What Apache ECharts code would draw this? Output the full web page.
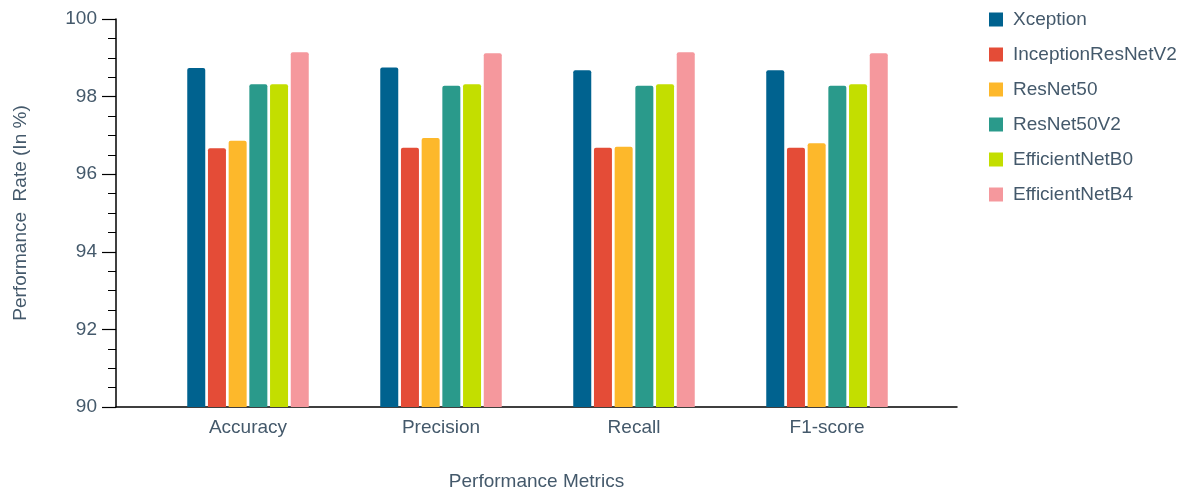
<!DOCTYPE html>
<html>
<head>
<meta charset="utf-8">
<script src="https://cdn.jsdelivr.net/npm/echarts@6/dist/echarts.min.js"></script>
<style>
  html, body { margin: 0; padding: 0; background: #ffffff; }
  #chart { width: 1178px; height: 487px; }
</style>
</head>
<body>
<div id="chart"></div>
<script>
// Metric categories along the x axis
const metrics = ['Accuracy', 'Precision', 'Recall', 'F1-score'];

// Per-model scores (%) for each metric
const xception          = [98.74, 98.75, 98.68, 98.68];
const inceptionResNetV2 = [96.67, 96.68, 96.68, 96.68];
const resNet50          = [96.86, 96.93, 96.71, 96.80];
const resNet50V2        = [98.32, 98.28, 98.28, 98.28];
const efficientNetB0    = [98.32, 98.32, 98.32, 98.32];
const efficientNetB4    = [99.14, 99.12, 99.14, 99.12];

const modelNames = ['Xception', 'InceptionResNetV2', 'ResNet50', 'ResNet50V2', 'EfficientNetB0', 'EfficientNetB4'];
const modelValues = [xception, inceptionResNetV2, resNet50, resNet50V2, efficientNetB0, efficientNetB4];
const modelColors = ['#00628f', '#e44c37', '#fdb82b', '#2a9a8b', '#c3de00', '#f5989d'];

const textColor = '#44596b';
const fontFamily = '"Liberation Sans", Arial, Helvetica, sans-serif';
const fontSize = 19;

const chart = echarts.init(document.getElementById('chart'), null, { renderer: 'canvas' });

const series = modelNames.map((name, i) => ({
  name: name,
  type: 'bar',
  xAxisIndex: 1,
  yAxisIndex: 1,
  data: modelValues[i],
  barWidth: 18,
  barGap: '15%',
  itemStyle: { color: modelColors[i], borderRadius: [2, 2, 0, 0] }
}));

chart.setOption({
  animation: false,
  backgroundColor: '#ffffff',
  textStyle: { fontFamily: fontFamily, color: textColor },
  legend: {
    orient: 'vertical',
    left: 989,
    top: 10,
    padding: 0,
    itemWidth: 14,
    itemHeight: 14,
    itemGap: 16,
    icon: 'rect',
    textStyle: { fontSize: fontSize, color: textColor, fontFamily: fontFamily, padding: [0, 0, 0, 5] },
    data: modelNames
  },
  grid: [
    // frame grid: carries the visible axis lines, ticks and y labels
    { left: 116, right: 221, top: 19, bottom: 80, outerBoundsMode: 'none', containLabel: false },
    // bar grid: category slots for the grouped bars
    { left: 151.5, right: 254.5, top: 19, bottom: 80, outerBoundsMode: 'none', containLabel: false }
  ],
  xAxis: [
    {
      gridIndex: 0,
      type: 'value',
      min: 0,
      max: 1,
      name: 'Performance Metrics',
      nameLocation: 'middle',
      nameGap: 65,
      nameTextStyle: { fontSize: fontSize, color: textColor, fontFamily: fontFamily },
      axisLine: { show: true, lineStyle: { color: '#000000', width: 1.5 } },
      axisTick: { show: false },
      axisLabel: { show: false },
      splitLine: { show: false }
    },
    {
      gridIndex: 1,
      type: 'category',
      data: metrics,
      axisLine: { show: false },
      axisTick: { show: false },
      axisLabel: { fontSize: fontSize, color: textColor, margin: 11, fontFamily: fontFamily },
      splitLine: { show: false }
    }
  ],
  yAxis: [
    {
      gridIndex: 0,
      type: 'value',
      min: 90,
      max: 100,
      interval: 2,
      name: 'Performance  Rate (In %)',
      nameLocation: 'middle',
      nameGap: 86,
      nameRotate: 90,
      nameTextStyle: { fontSize: fontSize, color: textColor, fontFamily: fontFamily },
      axisLine: { show: true, lineStyle: { color: '#000000', width: 1.5 } },
      axisTick: { show: true, length: 14, lineStyle: { color: '#000000', width: 1.2 } },
      minorTick: { show: true, splitNumber: 4, length: 8, lineStyle: { color: '#000000', width: 1 } },
      axisLabel: { fontSize: fontSize, color: textColor, margin: 19, fontFamily: fontFamily },
      splitLine: { show: false }
    },
    {
      gridIndex: 1,
      type: 'value',
      min: 90,
      max: 100,
      interval: 2,
      show: false,
      splitLine: { show: false }
    }
  ],
  series: series
});
</script>
</body>
</html>
